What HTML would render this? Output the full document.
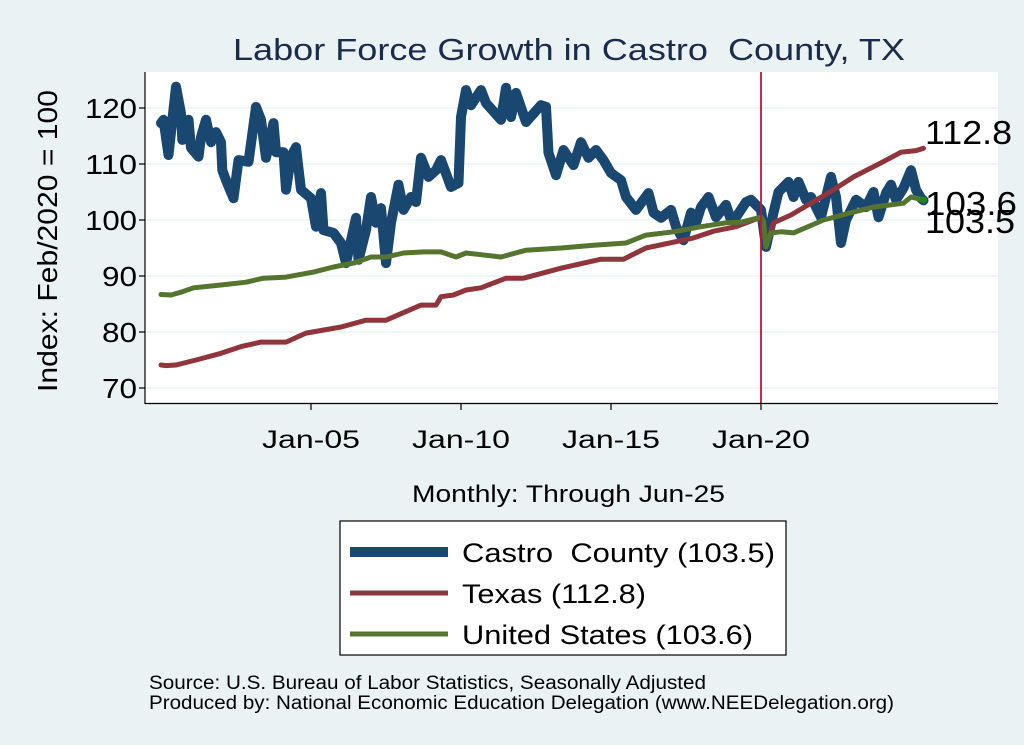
<!DOCTYPE html>
<html><head><meta charset="utf-8"><style>
body{margin:0;background:#eaf2f3;}
svg{display:block;font-family:"Liberation Sans",sans-serif;}
</style></head><body>
<svg id="chart" width="1024" height="745" viewBox="0 0 1024 745" xml:space="preserve">
<rect width="1024" height="745" fill="#eaf2f3"/>
<text x="233" y="60" font-size="31" fill="#1a2b4c" textLength="672" lengthAdjust="spacingAndGlyphs">Labor Force Growth in Castro&#160; County, TX</text>
<rect x="145" y="72" width="853" height="331" fill="#ffffff"/>
<g id="grid"></g>
<g id="series"></g>
<line x1="145" y1="72" x2="145" y2="404" stroke="#000" stroke-width="1.2"/>
<line x1="145" y1="403.5" x2="998" y2="403.5" stroke="#000" stroke-width="1.2"/>
<g id="ticks"></g>
<text transform="translate(57,241) rotate(-90)" font-size="28" text-anchor="middle" textLength="302" lengthAdjust="spacingAndGlyphs" fill="#000">Index: Feb/2020 = 100</text>
<text x="412" y="502" font-size="24" textLength="313" lengthAdjust="spacingAndGlyphs" fill="#000">Monthly: Through Jun-25</text>
<text x="925" y="144" font-size="33" textLength="87" lengthAdjust="spacingAndGlyphs" fill="#000">112.8</text>
<text x="925" y="215" font-size="33" textLength="92" lengthAdjust="spacingAndGlyphs" fill="#000">103.6</text>
<text x="925" y="233" font-size="33" textLength="90" lengthAdjust="spacingAndGlyphs" fill="#000">103.5</text>
<g>
<rect x="340" y="521" width="446" height="134" fill="#fff" stroke="#000" stroke-width="1.2"/>
<line x1="350" y1="552" x2="448" y2="552" stroke="#1a476f" stroke-width="10"/>
<text x="462" y="562" font-size="27" textLength="313" lengthAdjust="spacingAndGlyphs">Castro&#160; County (103.5)</text>
<line x1="350" y1="593" x2="448" y2="593" stroke="#90353b" stroke-width="5"/>
<text x="462" y="603" font-size="27" textLength="184" lengthAdjust="spacingAndGlyphs">Texas (112.8)</text>
<line x1="350" y1="634" x2="448" y2="634" stroke="#55752f" stroke-width="5"/>
<text x="462" y="644" font-size="27" textLength="291" lengthAdjust="spacingAndGlyphs">United States (103.6)</text>
</g>
<text x="149" y="689" font-size="19" textLength="557" lengthAdjust="spacingAndGlyphs">Source: U.S. Bureau of Labor Statistics, Seasonally Adjusted</text>
<text x="149" y="709" font-size="19" textLength="745" lengthAdjust="spacingAndGlyphs">Produced by: National Economic Education Delegation (www.NEEDelegation.org)</text>
</svg>
<script>
const yTicks=[70,80,90,100,110,120];
const xTickLabels=["Jan-05","Jan-10","Jan-15","Jan-20"];
const xTickMonths=[60,120,180,240];
const eventMonth=240;
const castroMonths=[0,1,3,6,8,8.5,11,12,15,16,18,20,22,24,24.5,26,29,31,35,38,40,42,45,46,49,50,52,54,56,60,62,64,65,69,72,74,78,79,82,84,86,88,90,92,95,97,100,102,104,107,110,112,116,119,120,122,124,128,130,136,138,140,142,146,152,154,155,158,161,165,168,171,174,177,180,184,186,190,195,197,200,204,206,209,212,214,216,219,222,226,228,230,234,236,240,242,245,247,251,253,255,258,260,264,268,270,272,274,278,282,285,287,290,292,294,297,300,302,304,305];
const castroValues=[117.3,117.9,111.6,123.8,119,114.3,117.9,112.9,111.3,114.8,117.9,113.9,115.7,113.9,108.9,107.1,103.9,110.7,110.4,120.2,117.9,111.1,117.3,112.1,112.1,105.4,111.3,113,105.4,103.9,98.8,104.8,98.2,97.7,95.9,92.3,100.4,92.9,98.2,104.1,99.5,102.1,92.3,99.5,106.3,101.8,104.1,103.2,111.1,107.7,108.9,110.7,105.9,106.6,118.4,123.2,120.5,123.2,120.9,117.9,123.6,118.4,122.7,117.5,120.5,120.2,112,108,112.5,109.8,113.9,111.1,112.5,110.7,108.4,107.1,104.1,101.8,104.8,101.3,100.4,101.8,98.8,96.4,101.3,99.5,102.3,104.1,100.5,102.7,100,100.5,103.2,103.6,101.8,95.2,101.3,105,106.8,104.1,106.8,103.6,104.1,100.5,107.7,104.1,95.9,100,103.6,102.3,105,100.5,104.8,106.3,103.6,105.7,108.9,105.4,103.9,103.5];
const texasMonths=[0,2,6,14,24,32,40,50,58,72,82,90,104,110,112,117,122,128,138,145,160,176,185,194,213,221,230,240,242,245,252,269,277,288,296,302,305];
const texasValues=[74.1,74,74.1,75,76.2,77.4,78.2,78.2,79.8,80.9,82.1,82.1,84.8,84.8,86.3,86.6,87.5,87.9,89.6,89.6,91.4,93,93,95,96.8,98,98.8,100.5,95.2,99.5,100.9,105.4,107.7,110.2,112.1,112.4,112.8];
const usMonths=[0,4,8,13,24,34,41,50,61,69,77,84,90,97,105,112,118,122,128,136,146,160,173,186,194,205,216,226,232,240,241,242,244,248,253,265,276,285,297,300,305];
const usValues=[86.7,86.6,87.1,87.9,88.4,88.9,89.6,89.8,90.7,91.6,92.3,93.4,93.4,94.1,94.3,94.3,93.4,94.1,93.8,93.4,94.6,95,95.5,95.9,97.3,97.9,98.8,99.5,99.6,100.5,99.8,95.2,97.7,97.9,97.7,100,101.3,102.3,103,104.1,103.6];

const NS="http://www.w3.org/2000/svg";
function xS(m){return 161+m*2.5;}
function yS(v){return 220-(v-100)*5.6;}
function mk(tag,attrs,parent){const e=document.createElementNS(NS,tag);for(const k in attrs)e.setAttribute(k,attrs[k]);parent.appendChild(e);return e;}
const grid=document.getElementById('grid'),ticks=document.getElementById('ticks'),series=document.getElementById('series');
yTicks.forEach(v=>{
  const g=mk('line',{x1:145,x2:998,y1:yS(v),y2:yS(v),stroke:'#eaf2f3','stroke-width':1.5},grid);
  
  
  const t=mk('line',{x1:139,x2:145,y1:yS(v),y2:yS(v),stroke:'#000','stroke-width':1.2},ticks);
  
  
  const l=mk('text',{x:137,y:yS(v)+10,'font-size':28,'text-anchor':'end',textLength:(String(v).length*17.3).toFixed(0),lengthAdjust:'spacingAndGlyphs'},ticks);
  l.textContent=v;
  
  
});
xTickMonths.forEach((m,i)=>{
  const t=mk('line',{x1:xS(m),x2:xS(m),y1:403,y2:410,stroke:'#000','stroke-width':1.2},ticks);
  
  
  const l=mk('text',{x:xS(m)-49,y:448,'font-size':25,textLength:98,lengthAdjust:'spacingAndGlyphs'},ticks);
  l.textContent=xTickLabels[i];
  
  
});
function line(ms,vs,color,w,name){
  const d=ms.map((m,i)=>(i?'L':'M')+xS(m).toFixed(1)+' '+yS(vs[i]).toFixed(1)).join(' ');
  const p=mk('path',{d:d,fill:'none',stroke:color,'stroke-width':w,'stroke-linejoin':'round','stroke-linecap':'round'},series);
  
  
}
line(castroMonths,castroValues,'#1a476f',10,'series-castro-county');
line(texasMonths,texasValues,'#90353b',5,'series-texas');
line(usMonths,usValues,'#55752f',5,'series-united-states');
const dot=mk('circle',{cx:xS(usMonths[usMonths.length-1]),cy:yS(usValues[usValues.length-1]),r:3.5,fill:'#1a8a1a'},series);


const ev=mk('line',{x1:xS(eventMonth),x2:xS(eventMonth),y1:72,y2:403,stroke:'#c8103e','stroke-width':1.8},series);


</script>
</body></html>
